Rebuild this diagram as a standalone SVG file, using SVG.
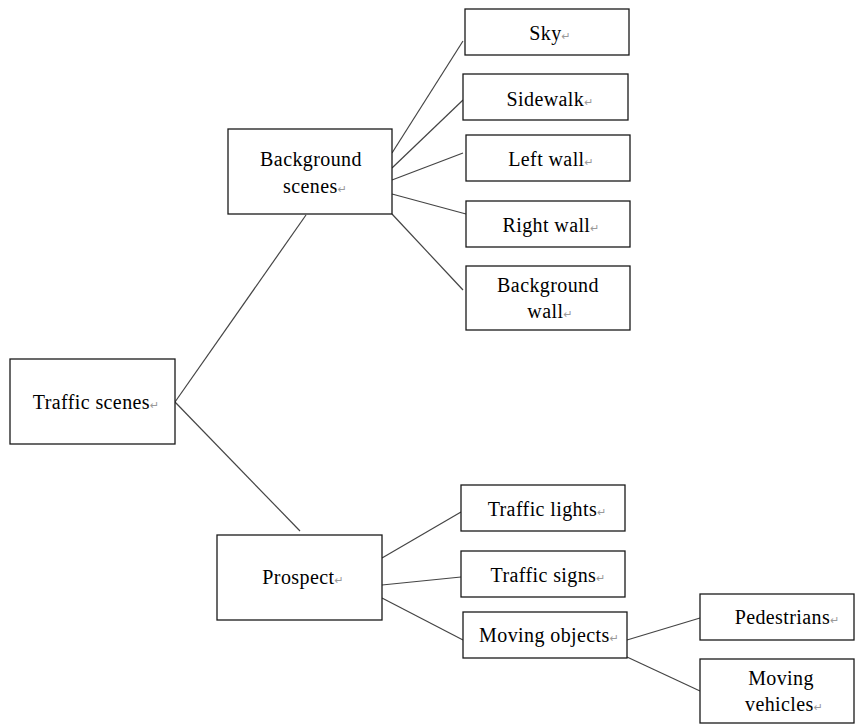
<svg xmlns="http://www.w3.org/2000/svg" width="855" height="724" viewBox="0 0 855 724">
<style>
.box{fill:#fff;stroke:#1a1a1a;stroke-width:1.3}
.t{font-family:"Liberation Serif","Times New Roman",serif;font-size:20px;letter-spacing:0.4px;fill:#000;text-anchor:middle}
.r{font-family:"DejaVu Sans",sans-serif;font-size:11px;letter-spacing:0;fill:#999}
.c{stroke:#444;stroke-width:1.2;fill:none}
</style>
<rect width="855" height="724" fill="#fff"/>
<g id="connectors">
<line class="c" x1="175" y1="402" x2="306" y2="215"/>
<line class="c" x1="175" y1="402" x2="300" y2="531"/>
<line class="c" x1="392" y1="153" x2="463" y2="41"/>
<line class="c" x1="392" y1="168" x2="463" y2="100"/>
<line class="c" x1="392" y1="180" x2="463" y2="153"/>
<line class="c" x1="392" y1="194" x2="466" y2="214"/>
<line class="c" x1="392" y1="214" x2="463" y2="290"/>
<line class="c" x1="382" y1="558" x2="461" y2="512"/>
<line class="c" x1="382" y1="585" x2="461" y2="577"/>
<line class="c" x1="382" y1="598" x2="463" y2="640"/>
<line class="c" x1="627" y1="640" x2="700" y2="618"/>
<line class="c" x1="627" y1="657" x2="700" y2="691"/>
</g>
<g id="traffic-scenes">
<rect class="box" x="10" y="359" width="165" height="85"/>
<text class="t" x="96" y="409">Traffic scenes<tspan class="r">↵</tspan></text>
</g>
<g id="background-scenes">
<rect class="box" x="228" y="129" width="164" height="85"/>
<text class="t" x="311" y="166">Background</text>
<text class="t" x="315" y="193">scenes<tspan class="r">↵</tspan></text>
</g>
<g id="sky">
<rect class="box" x="465" y="9" width="164" height="46"/>
<text class="t" x="550" y="40">Sky<tspan class="r">↵</tspan></text>
</g>
<g id="sidewalk">
<rect class="box" x="463" y="74" width="165" height="46"/>
<text class="t" x="550" y="106">Sidewalk<tspan class="r">↵</tspan></text>
</g>
<g id="left-wall">
<rect class="box" x="466" y="135" width="164" height="46"/>
<text class="t" x="551" y="166">Left wall<tspan class="r">↵</tspan></text>
</g>
<g id="right-wall">
<rect class="box" x="466" y="201" width="164" height="46"/>
<text class="t" x="551" y="232">Right wall<tspan class="r">↵</tspan></text>
</g>
<g id="background-wall">
<rect class="box" x="466" y="266" width="164" height="64"/>
<text class="t" x="548" y="292">Background</text>
<text class="t" x="550" y="318">wall<tspan class="r">↵</tspan></text>
</g>
<g id="prospect">
<rect class="box" x="217" y="535" width="165" height="85"/>
<text class="t" x="303" y="584">Prospect<tspan class="r">↵</tspan></text>
</g>
<g id="traffic-lights">
<rect class="box" x="461" y="485" width="164" height="46"/>
<text class="t" x="547" y="516">Traffic lights<tspan class="r">↵</tspan></text>
</g>
<g id="traffic-signs">
<rect class="box" x="461" y="551" width="164" height="46"/>
<text class="t" x="548" y="582">Traffic signs<tspan class="r">↵</tspan></text>
</g>
<g id="moving-objects">
<rect class="box" x="463" y="612" width="164" height="46"/>
<text class="t" x="549" y="642">Moving objects<tspan class="r">↵</tspan></text>
</g>
<g id="pedestrians">
<rect class="box" x="700" y="594" width="154" height="46"/>
<text class="t" x="787" y="624">Pedestrians<tspan class="r">↵</tspan></text>
</g>
<g id="moving-vehicles">
<rect class="box" x="700" y="659" width="154" height="64"/>
<text class="t" x="781" y="685">Moving</text>
<text class="t" x="784" y="711">vehicles<tspan class="r">↵</tspan></text>
</g>
</svg>
